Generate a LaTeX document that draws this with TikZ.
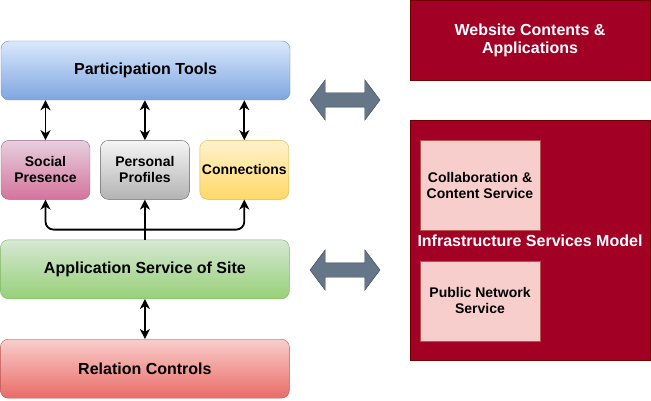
\documentclass[tikz,border=0pt]{standalone}
\usepackage{fontspec}
\setmainfont{Liberation Sans}
\usetikzlibrary{positioning,shapes.arrows,arrows.meta}

\definecolor{bluetop}{HTML}{DAE8FC}
\definecolor{bluebot}{HTML}{7EA6E0}
\definecolor{blueline}{HTML}{6C8EBF}
\definecolor{pinktop}{HTML}{E6D0DE}
\definecolor{pinkbot}{HTML}{D5739D}
\definecolor{pinkline}{HTML}{996185}
\definecolor{greytop}{HTML}{F5F5F5}
\definecolor{greybot}{HTML}{B3B3B3}
\definecolor{greyline}{HTML}{666666}
\definecolor{yellowtop}{HTML}{FFF2CC}
\definecolor{yellowbot}{HTML}{FFD966}
\definecolor{yellowline}{HTML}{D6B656}
\definecolor{greentop}{HTML}{D5E8D4}
\definecolor{greenbot}{HTML}{97D077}
\definecolor{greenline}{HTML}{82B366}
\definecolor{redtop}{HTML}{F8CECC}
\definecolor{redbot}{HTML}{EA6B66}
\definecolor{redline}{HTML}{B85450}
\definecolor{wine}{HTML}{A20025}
\definecolor{wineline}{HTML}{6F0000}
\definecolor{slate}{HTML}{647687}
\definecolor{slateline}{HTML}{314354}

\tikzset{
  wide/.style={rounded corners=8pt, minimum width=289pt, minimum height=59pt,
    font=\fontsize{16}{18}\selectfont\bfseries},
  part/.style={rounded corners=8pt, minimum width=89pt, minimum height=59pt,
    align=center, inner xsep=1pt, font=\fontsize{14}{16}\selectfont\bfseries},
  grad/.style n args={3}{top color=#1, bottom color=#2, draw=#3},
  dark/.style={draw=wineline, fill=wine, text=white, align=center,
    font=\fontsize{16}{18}\selectfont\bfseries},
  serv/.style={draw=redline, fill=redtop, align=center, minimum width=120pt,
    inner xsep=1pt, font=\fontsize{14}{16}\selectfont\bfseries},
  link/.style={line width=1.8pt,
    {Stealth[length=10pt,width=10pt,inset=3pt]}-{Stealth[length=10pt,width=10pt,inset=3pt]}},
  up/.style={line width=1.8pt, -{Stealth[length=10pt,width=10pt,inset=3pt]}},
  block/.style={double arrow, draw=slateline, fill=slate, minimum height=70pt,
    inner xsep=0pt, inner ysep=7pt, double arrow head extend=13pt,
    double arrow tip angle=106}
}

\begin{document}
\begin{tikzpicture}[x=1pt, y=-1pt]
    \useasboundingbox (0,0) rectangle (651,401);

    % left column
    \node[wide, grad={bluetop}{bluebot}{blueline}] (tools) at (145.5,70.5) {Participation Tools};
    \node[part, grad={pinktop}{pinkbot}{pinkline}, below right=40pt and 0pt of tools.south west] (social) {Social\\Presence};
    \node[part, grad={greytop}{greybot}{greyline}, right=10pt of social] (profiles) {Personal\\Profiles};
    \node[part, grad={yellowtop}{yellowbot}{yellowline}, right=10pt of profiles] (conn) {Connections};
    \node[wide, grad={greentop}{greenbot}{greenline}, below=40pt of profiles] (app) {Application Service of Site};
    \node[wide, grad={redtop}{redbot}{redline}, below=40pt of app] (rel) {Relation Controls};

    \draw[link] (social.north |- tools.south) -- (social.north);
    \draw[link] (profiles.north |- tools.south) -- (profiles.north);
    \draw[link] (conn.north |- tools.south) -- (conn.north);

    \coordinate[above=10pt of app.north] (split);
    \draw[up] (app.north) -- (profiles.south);
    \draw[up, rounded corners=8pt] (split) -| (social.south);
    \draw[up, rounded corners=8pt] (split) -| (conn.south);
    \draw[link] (app.south) -- (rel.north);

    % right column
    \node[dark, minimum width=240pt, minimum height=80pt] (web) at (530,40) {Website Contents \&\\Applications};
    \node[dark, minimum width=240pt, minimum height=240pt, below=40pt of web] (infra) {Infrastructure Services Model};
    \node[serv, minimum height=90pt, below right=20pt and 10pt of infra.north west] (collab) {Collaboration \&\\Content Service};
    \node[serv, minimum height=80pt, below=30pt of collab] (pubnet) {Public Network\\Service};

    \node[block] (arrtop) at (345,100) {};
    \node[block] (arrbot) at (345,270) {};
\end{tikzpicture}
\end{document}
